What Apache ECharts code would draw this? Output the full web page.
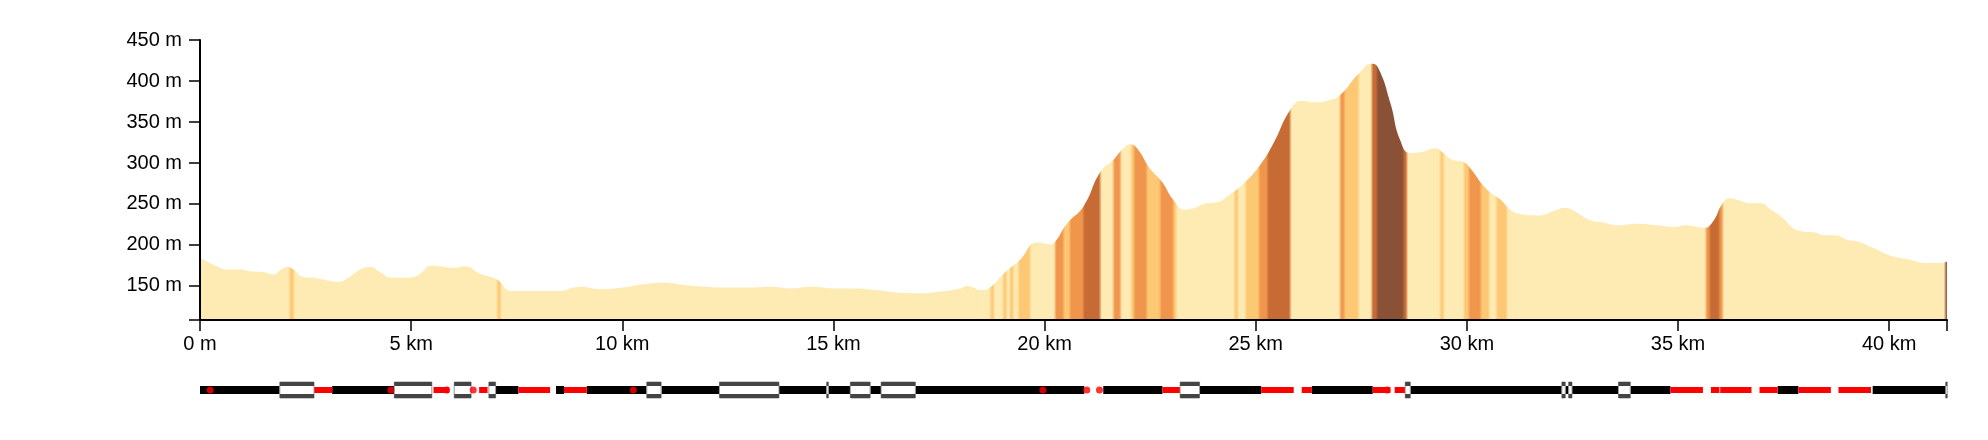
<!DOCTYPE html>
<html>
<head>
<meta charset="utf-8">
<script src="https://cdn.jsdelivr.net/npm/echarts@6/dist/echarts.min.js"></script>
<style>
  html, body { margin: 0; padding: 0; background: #fff; }
  #profile { width: 1988px; height: 440px; }
</style>
</head>
<body>
<div id="profile"></div>
<script>
// distance along the route (km) and elevation (m)
var distKm = [0, 0.2, 0.4, 0.63, 0.95, 1.18, 1.5, 1.74, 1.89, 2.09, 2.21, 2.45, 2.68, 3.0, 3.28, 3.51, 3.83, 4.03, 4.26, 4.54,
  4.82, 5.05, 5.21, 5.49, 5.68, 6.0, 6.28, 6.63, 7.03, 7.38, 8.05, 8.5, 9.0, 9.5, 10.0, 10.5, 11.0, 11.5, 12.0, 12.5,
  13.0, 13.5, 14.0, 14.5, 15.0, 15.5, 16.0, 16.5, 17.0, 17.5, 18.0, 18.16, 18.51, 18.67, 19.03, 19.42, 19.82, 20.13, 20.25, 20.53,
  20.92, 21.32, 21.63, 21.87, 22.03, 22.19, 22.5, 22.78, 23.05, 23.33, 23.53, 23.84, 24.08, 24.32, 24.71, 25.11, 25.42, 25.82, 26.09, 26.37,
  26.69, 27.0, 27.44, 27.75, 27.91, 28.19, 28.42, 28.66, 28.9, 29.25, 29.45, 29.65, 29.93, 30.09, 30.38, 30.58, 30.78, 31.03, 31.23, 31.72,
  32.04, 32.33, 32.49, 32.94, 33.18, 33.59, 34.0, 34.48, 34.93, 35.17, 35.62, 35.82, 36.06, 36.23, 36.47, 36.71, 36.96, 37.2, 37.41, 37.89,
  38.26, 38.46, 38.7, 39.03, 39.27, 39.6, 40.04, 40.41, 40.9, 41.22, 41.37];
var elevM = [184, 179, 174, 170, 170, 168, 167, 164, 169, 173, 170, 161, 160, 157, 155, 160, 171, 173, 167, 160,
  160, 161, 165, 175, 174, 172, 174, 165, 158, 144, 144, 144, 149, 146, 148, 152, 154, 151, 149, 148,
  148, 149, 147, 149, 147, 147, 145, 142, 141, 143, 147, 150, 145, 147, 165, 182, 203, 201, 204, 226,
  247, 289, 304, 318, 323, 318, 293, 277, 255, 243, 245, 251, 252, 259, 275, 298, 324, 365, 376, 374,
  376, 383, 409, 421, 415, 373, 328, 312, 313, 318, 312, 304, 301, 293, 273, 263, 256, 243, 238, 236,
  241, 245, 243, 230, 228, 224, 226, 224, 222, 224, 221, 228, 251, 257, 254, 251, 251, 243, 236, 217,
  215, 212, 212, 206, 204, 197, 187, 183, 178, 178, 180];

// gradient classes seen in the fill: from km, to km, class (0 flat .. 4 steepest)
var gradeFrom = [2.12, 7.04, 18.72, 19.02, 19.18, 19.38, 20.25, 20.45, 20.6, 20.92, 21.63, 22.05, 22.12, 22.42, 22.74, 23.05,
  24.5, 24.76, 25.08, 25.28, 27.0, 27.1, 27.75, 27.87, 28.5, 29.37, 29.93, 30.05, 30.33, 30.7, 35.66, 35.75, 35.98, 41.33];
var gradeTo = [2.22, 7.12, 18.8, 19.1, 19.26, 19.66, 20.45, 20.6, 20.92, 21.32, 21.8, 22.12, 22.42, 22.74, 23.05, 23.12,
  24.58, 25.08, 25.28, 25.82, 27.1, 27.44, 27.87, 28.5, 28.58, 29.45, 30.05, 30.33, 30.53, 30.95, 35.75, 35.98, 36.06, 41.37];
var gradeClass = [1, 1, 1, 1, 1, 1, 2, 1, 2, 3, 2, 1, 2, 1, 2, 1,
  1, 1, 2, 3, 2, 1, 3, 4, 3, 1, 1, 2, 1, 1, 2, 3, 2, 4];
var gradeColors = ['#feebb3', '#fdc874', '#f0964c', '#c76b35', '#8b5137'];

// route surface strip: [from km, to km]
var roadSegs = [[0, 1.89], [3.13, 4.6], [7.0, 7.54], [8.43, 8.62], [9.16, 10.58], [10.93, 12.3], [13.71, 14.84], [14.88, 15.4],
  [15.87, 16.13], [16.94, 20.94], [21.39, 22.79], [23.67, 25.13], [26.33, 27.77], [28.66, 32.25], [32.33, 32.41],
  [32.49, 33.59], [33.87, 34.82], [37.36, 37.85], [39.61, 41.35]];
var pathSegs = [[2.7, 3.13], [5.53, 5.9], [6.61, 6.81], [7.54, 8.29], [8.62, 9.16], [22.79, 23.21], [25.13, 25.9], [26.09, 26.33],
  [27.77, 28.19], [28.29, 28.54], [34.82, 35.59], [35.78, 35.98], [36.0, 36.74], [36.93, 37.36], [37.85, 38.62], [38.8, 39.57]];
var bridgeSegs = [[1.89, 2.7], [4.6, 5.49], [6.02, 6.42], [6.84, 7.0], [10.58, 10.92], [12.3, 13.71], [14.84, 14.88], [15.4, 15.87],
  [16.13, 16.94], [23.21, 23.67], [28.54, 28.66], [32.25, 32.33], [32.41, 32.49], [33.59, 33.87], [41.34, 41.37]];
var dotKm = [0.24, 4.52, 5.84, 6.47, 10.26, 19.96, 21.0, 21.3, 28.11];

var totalKm = 41.37;
var font = 'Liberation Sans, Arial, sans-serif';

// turn the class bands into horizontal gradient stops
function gradeStops() {
  var bands = [], cursor = 0, i;
  for (i = 0; i < gradeFrom.length; i++) {
    if (gradeFrom[i] > cursor) bands.push([cursor, gradeFrom[i], 0]);
    bands.push([gradeFrom[i], gradeTo[i], gradeClass[i]]);
    cursor = gradeTo[i];
  }
  if (cursor < totalKm) bands.push([cursor, totalKm, 0]);
  var e = 0.035, stops = [];
  for (i = 0; i < bands.length; i++) {
    var a = bands[i][0], b = bands[i][1], c = gradeColors[bands[i][2]];
    var s = i === 0 ? a : a + e;
    var t = i === bands.length - 1 ? b : b - e;
    if (t <= s) { s = t = (a + b) / 2; }
    stops.push({offset: s / totalKm, color: c});
    if (t > s) stops.push({offset: t / totalKm, color: c});
  }
  return stops;
}

function flatBar(h, fill) {
  return function (params, api) {
    var p0 = api.coord([api.value(0), 0.5]);
    var p1 = api.coord([api.value(1), 0.5]);
    return {type: 'rect', shape: {x: p0[0], y: p0[1] - h / 2, width: p1[0] - p0[0], height: h}, style: {fill: fill}};
  };
}

function bridgeBox(params, api) {
  var p0 = api.coord([api.value(0), 0.5]);
  var p1 = api.coord([api.value(1), 0.5]);
  var w = Math.max(p1[0] - p0[0], 1.5), top = p0[1] - 8;
  return {type: 'group', children: [
    {type: 'rect', shape: {x: p0[0], y: top, width: w, height: 16}, style: {fill: '#fff', stroke: '#999', lineWidth: 1}},
    {type: 'rect', shape: {x: p0[0], y: top, width: w, height: 4}, style: {fill: '#444'}},
    {type: 'rect', shape: {x: p0[0], y: top + 12, width: w, height: 4}, style: {fill: '#444'}}
  ]};
}

var chart = echarts.init(document.getElementById('profile'));
var axisLine = {lineStyle: {color: '#000', width: 2}};
var axisTick = {length: 11, lineStyle: {color: '#000', width: 1.5}};

chart.setOption({
  animation: false,
  grid: [
    {left: 200, right: 41, top: 40, height: 280, containLabel: false},
    {left: 200, right: 41, top: 380, height: 20, containLabel: false}
  ],
  xAxis: [
    {
      type: 'value', gridIndex: 0, min: 0, max: totalKm, splitNumber: 8, minInterval: 5, maxInterval: 5, z: 5,
      axisLine: axisLine, axisTick: axisTick, splitLine: {show: false},
      axisLabel: {
        margin: 14, color: '#000', fontSize: 20, fontFamily: font,
        formatter: function (v) {
          if (Math.abs(v % 5) > 1e-6) return '';
          return v === 0 ? '0 m' : v + ' km';
        }
      }
    },
    {type: 'value', gridIndex: 1, min: 0, max: totalKm, show: false}
  ],
  yAxis: [
    {
      type: 'value', gridIndex: 0, min: 108.5, max: 450, splitNumber: 6, minInterval: 50, maxInterval: 50, z: 5,
      axisLine: axisLine, axisTick: axisTick, splitLine: {show: false},
      axisLabel: {
        margin: 18, color: '#000', fontSize: 20, fontFamily: font,
        formatter: function (v) { return v % 50 === 0 ? v + ' m' : ''; }
      }
    },
    {type: 'value', gridIndex: 1, min: 0, max: 1, show: false}
  ],
  series: [
    {
      name: 'elevation', type: 'line', xAxisIndex: 0, yAxisIndex: 0,
      data: distKm.map(function (d, i) { return [d, elevM[i]]; }),
      smooth: 0.5, symbol: 'none', silent: true,
      lineStyle: {width: 0, opacity: 0},
      areaStyle: {opacity: 1, color: new echarts.graphic.LinearGradient(0, 0, 1, 0, gradeStops())}
    },
    {name: 'road', type: 'custom', xAxisIndex: 1, yAxisIndex: 1, data: roadSegs, encode: {x: [0, 1]}, renderItem: flatBar(8, '#000'), silent: true},
    {name: 'path', type: 'custom', xAxisIndex: 1, yAxisIndex: 1, data: pathSegs, encode: {x: [0, 1]}, renderItem: flatBar(6, '#ff0000'), silent: true},
    {name: 'bridge', type: 'custom', xAxisIndex: 1, yAxisIndex: 1, data: bridgeSegs, encode: {x: [0, 1]}, renderItem: bridgeBox, silent: true},
    {
      name: 'poi', type: 'scatter', xAxisIndex: 1, yAxisIndex: 1, symbolSize: 7, silent: true,
      itemStyle: {color: '#ff0000'},
      data: dotKm.map(function (k) { return [k, 0.5]; })
    }
  ]
});
</script>
</body>
</html>
